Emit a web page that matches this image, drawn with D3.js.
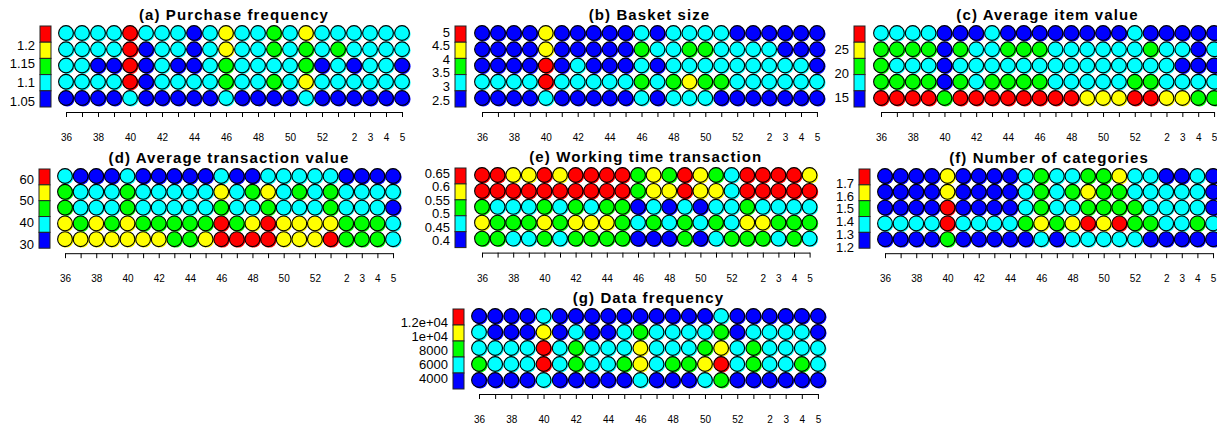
<!DOCTYPE html>
<html>
<head>
<meta charset="utf-8">
<script src="https://cdn.jsdelivr.net/npm/d3@7"></script>
<style>
  body { margin: 0; background: #fff; }
  text { font-family: "Liberation Sans", Arial, sans-serif; fill: #000; }
</style>
</head>
<body>
<svg id="chart" width="1217" height="431"></svg>
<script>
// weeks on the x axis (week 1 is missing in the source)
const weeks = [36, 37, 38, 39, 40, 41, 42, 43, 44, 45, 46, 47, 48, 49, 50, 51, 52, 53, 2, 3, 4, 5];
const labelledWeeks = [36, 38, 40, 42, 44, 46, 48, 50, 52, 2, 3, 4, 5];

// colour levels 0..4, low to high
const levelColors = ["#0000ff", "#00ffff", "#00ff00", "#ffff00", "#ff0000"];

// grids: 5 rows (top to bottom) x 22 weeks, colour level per cell
const purchaseFrequency = [
  [1,1,1,1,4,1,1,1,0,1,3,1,1,2,1,3,1,1,1,1,1,1],
  [1,1,1,1,4,0,1,1,0,1,3,1,1,2,1,2,1,2,1,1,1,1],
  [1,1,0,0,4,0,1,0,0,1,2,1,1,1,1,2,0,1,0,1,1,0],
  [1,1,1,1,4,0,1,1,1,1,2,1,1,2,1,3,1,1,1,1,1,1],
  [0,0,0,0,1,0,0,0,0,0,1,0,0,0,0,1,0,0,0,0,0,0]
];
const basketSize = [
  [0,0,0,0,3,0,0,0,0,0,1,0,1,1,1,1,0,0,0,0,0,0],
  [0,0,0,0,3,0,0,0,0,0,2,1,1,2,2,1,1,1,1,0,0,0],
  [0,0,0,0,4,0,1,0,0,0,1,0,1,1,1,1,1,1,1,1,1,0],
  [1,1,1,1,4,1,1,1,1,1,2,1,2,3,2,2,1,1,1,1,1,1],
  [0,0,0,0,1,0,0,0,0,0,1,0,1,1,1,0,0,0,0,0,0,0]
];
const averageItemValue = [
  [1,1,1,1,0,0,0,1,0,0,0,0,0,0,0,0,1,0,0,0,0,0],
  [2,2,2,2,0,2,1,1,2,2,2,1,1,1,1,1,1,2,1,1,0,1],
  [2,1,1,1,0,1,1,1,1,1,1,1,1,1,1,1,1,1,1,0,0,0],
  [2,2,2,2,0,2,1,2,2,2,2,1,1,1,1,1,2,2,1,1,1,1],
  [4,4,4,4,2,4,4,4,4,4,4,4,4,3,3,3,4,4,3,3,2,2]
];
const averageTransactionValue = [
  [1,0,0,0,1,0,0,0,0,0,1,0,0,1,1,1,1,1,0,0,0,0],
  [2,1,1,1,2,1,1,1,1,1,3,1,2,3,1,2,1,2,1,1,1,1],
  [2,1,1,1,2,1,1,1,1,1,2,1,1,2,1,1,1,2,1,1,1,0],
  [3,2,3,2,3,2,2,2,2,2,4,2,3,4,3,3,3,3,2,2,2,1],
  [3,3,3,3,3,3,3,2,2,3,4,4,4,4,3,3,3,4,2,2,2,1]
];
const workingTimeTransaction = [
  [4,4,3,3,4,3,4,4,4,4,2,3,2,4,3,2,1,4,4,4,4,3],
  [4,4,4,4,4,4,4,4,4,4,2,3,3,4,3,3,1,4,4,4,4,4],
  [2,1,1,1,2,1,2,1,2,2,0,1,0,1,0,1,1,2,1,1,1,1],
  [3,2,2,2,3,2,3,3,3,2,1,2,1,2,1,2,1,3,3,2,2,2],
  [2,2,1,1,2,1,2,2,2,2,0,0,0,2,0,1,2,2,2,1,2,1]
];
const numberOfCategories = [
  [0,0,0,0,3,0,0,0,0,1,2,1,1,2,2,3,1,1,0,0,1,0],
  [0,0,0,0,3,0,0,0,0,1,2,1,2,3,2,2,1,1,1,1,1,0],
  [0,0,0,0,4,0,0,0,0,1,2,1,1,2,2,2,2,1,1,1,1,0],
  [1,1,1,1,4,1,1,1,1,2,3,2,3,4,3,4,2,2,1,1,2,1],
  [0,0,0,0,2,0,0,0,0,0,1,0,1,1,1,1,1,0,0,0,0,0]
];
const dataFrequency = [
  [0,0,0,0,1,0,0,0,0,0,0,0,0,0,0,1,0,0,0,0,0,0],
  [1,0,0,0,3,0,1,0,0,1,2,1,1,1,1,2,0,1,1,1,1,0],
  [1,1,1,1,4,1,2,1,1,1,3,1,1,1,2,3,1,2,1,1,1,1],
  [2,1,1,1,4,1,2,1,1,2,3,1,2,2,3,4,1,2,1,1,2,1],
  [0,0,0,0,1,0,0,0,0,0,1,0,0,0,1,2,0,0,0,0,0,0]
];

// colour-bar ticks and the value range the bar covers (bottom, top)
const purchaseTicks = [1.2, 1.15, 1.1, 1.05];
const purchaseRange = [1.034, 1.251];
const basketTicks = [5, 4.5, 4, 3.5, 3, 2.5];
const basketRange = [2.24, 5.22];
const itemTicks = [25, 20, 15];
const itemRange = [12.9, 29.8];
const transactionTicks = [60, 50, 40, 30];
const transactionRange = [28.2, 64.6];
const workingTicks = [0.65, 0.6, 0.55, 0.5, 0.45, 0.4];
const workingRange = [0.374, 0.669];
const categoryTicks = [1.7, 1.6, 1.5, 1.4, 1.3, 1.2];
const categoryRange = [1.192, 1.809];
const frequencyTicks = [12000, 10000, 8000, 6000, 4000];
const frequencyTickLabels = ["1.2e+04", "1e+04", "8000", "6000", "4000"];
const frequencyRange = [2430, 13860];

const svg = d3.select("#chart");
const radius = 7.4;

const panels = [
  { title: "(a) Purchase frequency", grid: purchaseFrequency, ticks: purchaseTicks, range: purchaseRange, cx: 66, step: 16, lx: 40, top: 33, rowStep: 16.25 },
  { title: "(b) Basket size", grid: basketSize, ticks: basketTicks, range: basketRange, cx: 482, step: 15.95, lx: 455, top: 33, rowStep: 16.25 },
  { title: "(c) Average item value", grid: averageItemValue, ticks: itemTicks, range: itemRange, cx: 881, step: 15.86, lx: 854, top: 33, rowStep: 16.25 },
  { title: "(d) Average transaction value", grid: averageTransactionValue, ticks: transactionTicks, range: transactionRange, cx: 65, step: 15.62, lx: 39, top: 176, rowStep: 15.8 },
  { title: "(e) Working time transaction", grid: workingTimeTransaction, ticks: workingTicks, range: workingRange, cx: 482, step: 15.6, lx: 455, top: 175, rowStep: 15.9 },
  { title: "(f) Number of categories", grid: numberOfCategories, ticks: categoryTicks, range: categoryRange, cx: 885, step: 15.62, lx: 859, top: 176, rowStep: 15.8 },
  { title: "(g) Data frequency", grid: dataFrequency, ticks: frequencyTicks, labels: frequencyTickLabels, range: frequencyRange, cx: 479, step: 16.14, lx: 453, top: 316, rowStep: 16 }
];

panels.forEach(drawPanel);

function drawPanel(p) {
  const g = svg.append("g");

  const x = d3.scalePoint()
    .domain(weeks)
    .range([p.cx, p.cx + p.step * (weeks.length - 1)]);

  const y = d3.scalePoint()
    .domain(d3.range(p.grid.length))
    .range([p.top, p.top + p.rowStep * (p.grid.length - 1)]);
  const bottom = y.range()[1];

  const cells = [];
  p.grid.forEach((row, r) => row.forEach((level, c) => cells.push({ week: weeks[c], row: r, level })));

  // colour smear slightly offset behind each point, as in the original rendering
  g.append("g")
    .selectAll("circle")
    .data(cells)
    .join("circle")
    .attr("cx", d => x(d.week) + 1.2)
    .attr("cy", d => y(d.row) + 1)
    .attr("r", radius)
    .attr("fill", d => levelColors[d.level]);

  g.append("g")
    .selectAll("circle")
    .data(cells)
    .join("circle")
    .attr("cx", d => x(d.week))
    .attr("cy", d => y(d.row))
    .attr("r", radius)
    .attr("fill", d => levelColors[d.level])
    .attr("stroke", "#000")
    .attr("stroke-width", 1.1);

  // title
  g.append("text")
    .attr("x", (x.range()[0] + x.range()[1]) / 2)
    .attr("y", p.top - 13)
    .attr("text-anchor", "middle")
    .attr("font-size", 15)
    .attr("font-weight", "bold")
    .attr("letter-spacing", 1.1)
    .text(p.title);

  // x axis
  const axis = g.append("g")
    .attr("transform", `translate(0,${bottom + 14})`)
    .call(d3.axisBottom(x)
      .tickSize(5)
      .tickSizeOuter(0)
      .tickPadding(17)
      .tickFormat(w => labelledWeeks.includes(w) ? w : ""));
  axis.selectAll("text").attr("font-size", 10).attr("font-family", null);
  axis.selectAll("path, line").attr("stroke", "#000");

  // colour bar
  const barTop = p.top - 7;
  const barBottom = bottom + 9;
  const boxH = (barBottom - barTop) / levelColors.length;
  const legend = g.append("g");

  legend.selectAll("rect")
    .data(levelColors.slice().reverse())
    .join("rect")
    .attr("x", p.lx)
    .attr("y", (d, i) => barTop + i * boxH)
    .attr("width", 11)
    .attr("height", boxH)
    .attr("fill", d => d)
    .attr("stroke", "#222")
    .attr("stroke-width", 1);

  const ly = d3.scaleLinear().domain(p.range).range([barBottom, barTop]);

  legend.selectAll("text")
    .data(p.ticks)
    .join("text")
    .attr("x", p.lx - 5)
    .attr("y", d => ly(d))
    .attr("dy", "0.36em")
    .attr("text-anchor", "end")
    .attr("font-size", 13)
    .text((d, i) => p.labels ? p.labels[i] : d);
}
</script>
</body>
</html>
